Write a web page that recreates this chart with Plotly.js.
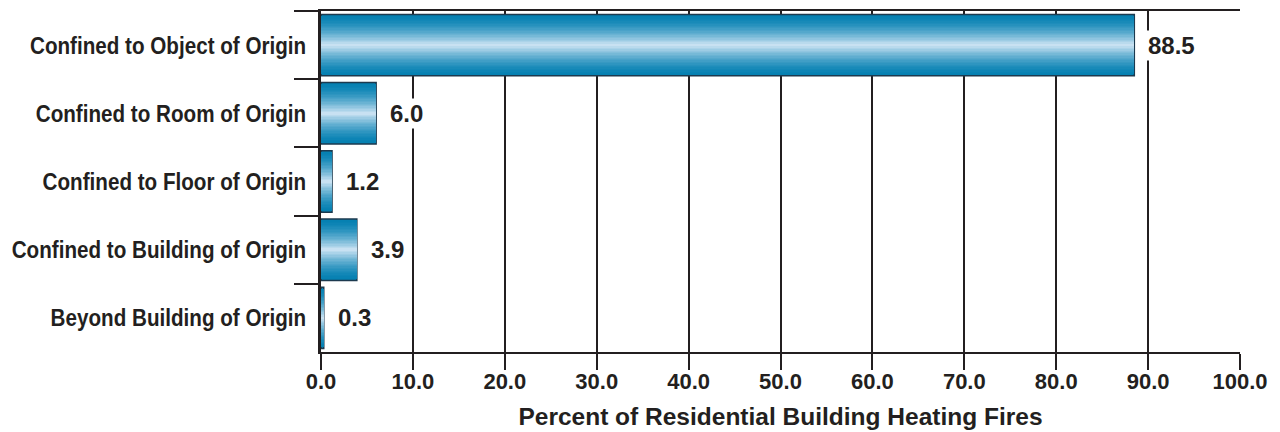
<!DOCTYPE html>
<html>
<head>
<meta charset="utf-8">
<script src="https://cdn.plot.ly/plotly-3.0.1.min.js"></script>
<style>
  html, body { margin: 0; padding: 0; background: #ffffff; }
  #chart { width: 1280px; height: 432px; }
</style>
</head>
<body>
<div id="chart"></div>
<script>
// Extent of residential building heating fires
const categories = [
  'Confined to Object of Origin',
  'Confined to Room of Origin',
  'Confined to Floor of Origin',
  'Confined to Building of Origin',
  'Beyond Building of Origin'
];
const percents = [88.5, 6.0, 1.2, 3.9, 0.3];
const xTickValues = [0, 10, 20, 30, 40, 50, 60, 70, 80, 90, 100];
const xTickLabels = ['0.0', '10.0', '20.0', '30.0', '40.0', '50.0', '60.0', '70.0', '80.0', '90.0', '100.0'];
const xTitle = 'Percent of Residential Building Heating Fires';

const INK = '#231f20';
const SANS = 'Liberation Sans, Arial, sans-serif';
// category names are set in a narrowed bold face
const CATEGORY_SQUEEZE = 0.86;

// Cylinder shading: stacked overlaid bars, each narrower and lighter,
// so the bar is dark at its edges and pale along its middle.
const LAYERS = 22;
const BAR_WIDTH = 0.9;
const DARK = [4, 128, 178];
const LIGHT = [200, 225, 242];
function shade(t) {
  const k = Math.pow(t, 1.6);
  const c = DARK.map((d, i) => Math.round(d + (LIGHT[i] - d) * k));
  return 'rgb(' + c.join(',') + ')';
}

const traces = [];
for (let i = 0; i < LAYERS; i++) {
  const t = i / (LAYERS - 1);
  traces.push({
    type: 'bar',
    orientation: 'h',
    x: percents,
    y: categories,
    width: BAR_WIDTH * (1 - i / LAYERS),
    marker: {
      color: shade(t),
      line: i === 0 ? { color: '#1c3a4f', width: 1.5 } : { width: 0 }
    },
    hoverinfo: i === 0 ? 'x+y' : 'skip',
    showlegend: false
  });
}

const annotations = percents.map((v, i) => ({
  x: v,
  y: categories[i],
  xref: 'x',
  yref: 'y',
  text: v.toFixed(1),
  showarrow: false,
  xanchor: 'left',
  yanchor: 'middle',
  xshift: 12,
  bgcolor: '#ffffff',
  borderpad: 1,
  font: { family: SANS, size: 24, weight: 'bold', color: INK }
}));

const layout = {
  width: 1280,
  height: 432,
  margin: { l: 321, r: 40, t: 11, b: 80 },
  paper_bgcolor: '#ffffff',
  plot_bgcolor: '#ffffff',
  barmode: 'overlay',
  bargap: 0,
  showlegend: false,
  xaxis: {
    range: [0, 100],
    tickvals: xTickValues,
    ticktext: xTickLabels,
    ticks: 'outside',
    ticklen: 16,
    tickwidth: 2,
    tickcolor: INK,
    ticklabelstandoff: -7,
    showgrid: true,
    gridcolor: INK,
    gridwidth: 2,
    zeroline: false,
    showline: true,
    linecolor: INK,
    linewidth: 2,
    mirror: true,
    tickfont: { family: SANS, size: 22, weight: 'bold', color: INK },
    title: {
      text: xTitle,
      standoff: 14,
      font: { family: SANS, size: 24.5, weight: 'bold', color: INK }
    },
    fixedrange: true
  },
  yaxis: {
    type: 'category',
    autorange: 'reversed',
    tickson: 'boundaries',
    ticks: 'outside',
    ticklen: 24,
    tickwidth: 2,
    tickcolor: INK,
    ticklabelstandoff: 7,
    showgrid: false,
    zeroline: false,
    showline: true,
    linecolor: INK,
    linewidth: 3,
    tickfont: { family: SANS, size: 24, weight: 'bold', color: INK },
    fixedrange: true
  },
  annotations: annotations
};

// Narrow each category label horizontally about its right-hand anchor.
function squeezeCategoryLabels(gd) {
  gd.querySelectorAll('.ytick text').forEach(function (el) {
    const ax = parseFloat(el.getAttribute('x')) || 0;
    const base = el.getAttribute('transform') || '';
    el.setAttribute('transform',
      base + ' translate(' + ax + ',0) scale(' + CATEGORY_SQUEEZE + ',1) translate(' + (-ax) + ',0)');
  });
}

Plotly.newPlot('chart', traces, layout, { displayModeBar: false, staticPlot: true })
  .then(squeezeCategoryLabels);
</script>
</body>
</html>
